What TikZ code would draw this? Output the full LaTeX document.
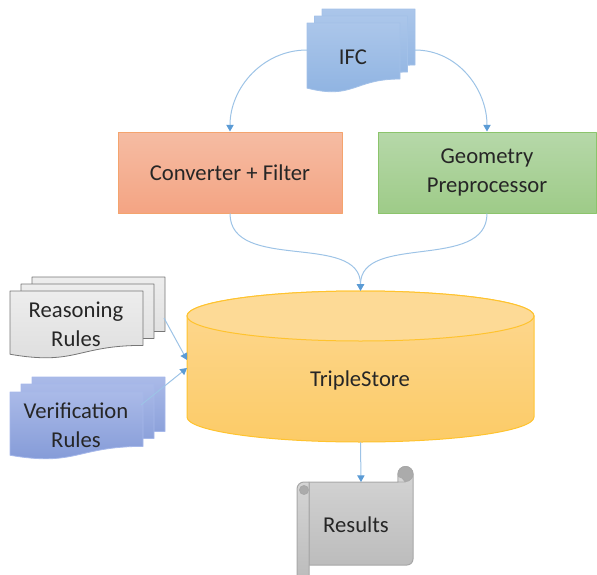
\documentclass[tikz,border=0pt]{standalone}
\usepackage{fontspec}
\setmainfont{Carlito}
\usetikzlibrary{arrows.meta}
\definecolor{linkblue}{HTML}{9DC3E6}
\definecolor{tipblue}{HTML}{5B9BD5}
\definecolor{txt}{HTML}{262626}
\definecolor{convtop}{HTML}{F5BCA3}
\definecolor{convbot}{HTML}{F4A483}
\definecolor{convborder}{HTML}{F4A46E}
\definecolor{geotop}{HTML}{B6D8A9}
\definecolor{geobot}{HTML}{9ECB88}
\definecolor{geoborder}{HTML}{8CC46C}
\definecolor{cyltop}{HTML}{FDD892}
\definecolor{cylbot}{HTML}{FCCB67}
\definecolor{cyllid}{HTML}{FDDA96}
\definecolor{cylborder}{HTML}{FFC32E}
\definecolor{ifctop}{HTML}{ABC6EA}
\definecolor{ifcbot}{HTML}{8DB2E1}
\definecolor{ifcborder}{HTML}{A3C1E8}
\definecolor{vertop}{HTML}{AABAE8}
\definecolor{verbot}{HTML}{8198D6}
\definecolor{verborder}{HTML}{A6B8EA}
\definecolor{reatop}{HTML}{EDEDED}
\definecolor{reabot}{HTML}{DDDDDD}
\definecolor{reaborder}{HTML}{767676}
\definecolor{restop}{HTML}{D5D5D5}
\definecolor{resbot}{HTML}{BCBCBC}
\definecolor{resborder}{HTML}{A8A8A8}
\definecolor{rescurl}{HTML}{ABABAB}
% document shape: left, top (page px), width, height, style
\newcommand\docshape[5]{%
  \path[#5] (#1,-#2) -- ({#1+#3},-#2) -- ({#1+#3},{-#2-0.8*#4})
    .. controls ({#1+0.5*#3},{-#2-0.8*#4}) and ({#1+0.5*#3},{-#2-1.1*#4}) ..
    (#1,{-#2-0.93*#4}) -- cycle;}
\begin{document}
\begin{tikzpicture}[x=0.75pt,y=0.75pt,line join=round,
  conn/.style={draw=linkblue,line width=0.75pt,
    -{Triangle[length=5pt,width=5.5pt,color=tipblue,fill=tipblue]}},
  lbl/.style={font=\fontsize{17}{21.75}\selectfont,align=center,text=txt,inner sep=0pt},
  ifcsheet/.style={draw=ifcborder,line width=0.6pt,top color=ifctop,bottom color=ifcbot},
  versheet/.style={draw=verborder,line width=0.6pt,top color=vertop,bottom color=verbot},
  reasheet/.style={draw=reaborder,line width=0.6pt,top color=reatop,bottom color=reabot},
  procbox/.style={line width=0.75pt,minimum height=60.75pt,inner sep=0pt}]
\useasboundingbox (0,0) rectangle (597,-575);
% IFC multi-document
\docshape{322}{9}{93}{70}{ifcsheet}
\docshape{314.5}{16}{93}{70}{ifcsheet}
\docshape{307}{23}{93}{70}{ifcsheet}
\node[lbl] (ifc) at (353,-57) {IFC};
\coordinate (ifcL) at (307,-50);
\coordinate (ifcR) at (415,-50);
% process boxes
\node[procbox,lbl,draw=convborder,top color=convtop,bottom color=convbot,
  minimum width=168pt,minimum height=60.75pt] (conv) at (230,-172.5) {Converter + Filter};
\node[procbox,lbl,draw=geoborder,top color=geotop,bottom color=geobot,
  minimum width=163.5pt,minimum height=60.75pt] (geo) at (487,-172.5) {Geometry\\Preprocessor};
% TripleStore cylinder
\path[draw=cylborder,line width=0.75pt,top color=cyltop,bottom color=cylbot]
  (187,-316) -- (187,-417) arc[start angle=180,end angle=360,x radius=173.5,y radius=25]
  -- (534,-316) arc[start angle=0,end angle=180,x radius=173.5,y radius=25] -- cycle;
\draw[draw=cylborder,line width=0.75pt,fill=cyllid] (360.5,-316) ellipse[x radius=173.5,y radius=25];
\node[minimum width=260.25pt,minimum height=113.25pt,inner sep=0pt] (ts) at (360.5,-366.5) {};
\node[lbl] (tstext) at (360,-380) {TripleStore};
\coordinate (tsL1) at (187,-360);
\coordinate (tsL2) at (187,-368);
% Reasoning rules
\docshape{32}{277}{133}{68}{reasheet}
\docshape{21}{284}{133}{68}{reasheet}
\docshape{10}{291}{133}{68}{reasheet}
\node[lbl] (reas) at (76,-324) {Reasoning\\Rules};
\coordinate (reasR) at (164,-318);
% Verification rules
\docshape{32}{377}{133}{68}{versheet}
\docshape{21}{384}{133}{68}{versheet}
\docshape{10}{392}{133}{68}{versheet}
\node[lbl] (verif) at (76,-425) {Verification\\Rules};
\coordinate (verR) at (141,-405);
% Results scroll
\path[draw=resborder,line width=0.75pt,top color=restop,bottom color=resbot]
  (309,-482) -- (398,-482) -- (398,-474) arc[start angle=180,end angle=0,radius=7.5]
  -- (413,-559) arc[start angle=0,end angle=-90,radius=6] -- (309,-565) -- cycle;
\draw[draw=resborder,line width=0.6pt,fill=rescurl] (405.5,-474) circle[radius=7.5];
\draw[draw=resborder,line width=0.6pt,fill=restop] (398,-482) -- (398,-474)
  arc[start angle=180,end angle=270,radius=4] -- (405.5,-482) -- cycle;
\path[draw=resborder,line width=0.75pt,top color=restop,bottom color=resbot]
  (297,-578) -- (297,-489) arc[start angle=180,end angle=90,radius=7]
  -- (309,-482) -- (309,-578) -- cycle;
\draw[draw=resborder,line width=0.6pt,fill=rescurl] (304,-490) circle[radius=4.5];
\node[lbl] (res) at (356,-525) {Results};
\coordinate (resTop) at (361,-482);
% connectors
\draw[conn] (ifcL) to[out=180,in=90] (conv.north);
\draw[conn] (ifcR) to[out=0,in=90] (geo.north);
\draw[conn] (conv.south) to[out=-90,in=90] (ts.north);
\draw[conn] (geo.south) to[out=-90,in=90] (ts.north);
\draw[conn] (reasR) -- (tsL1);
\draw[conn] (verR) -- (tsL2);
\draw[conn] (ts.south) -- (resTop);
\end{tikzpicture}
\end{document}
